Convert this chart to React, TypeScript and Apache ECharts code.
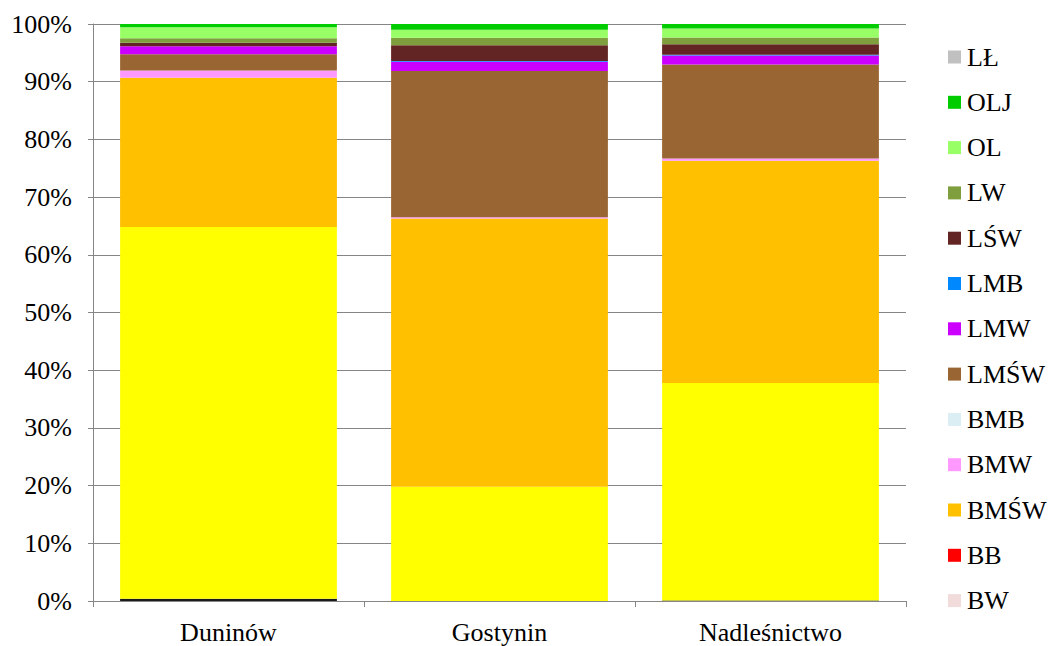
import React, { useEffect, useRef } from "react";
import * as echarts from "echarts";

const categories = ["Duninów", "Gostynin", "Nadleśnictwo"];

// stack order, bottom to top
const seriesNames = ["BS", "BŚW", "BW", "BB", "BMŚW", "BMW", "BMB", "LMŚW", "LMW", "LMB", "LŚW", "LW", "OL", "OLJ", "LŁ"];
const seriesColors = ["#1a1a1a", "#FFFF00", "#F2DCDB", "#FF0000", "#FFC000", "#FF99FF", "#DAEEF3", "#996633", "#CC00FF", "#0088FF", "#632523", "#7F9F3F", "#99FF66", "#00CC00", "#C0C0C0"];

const BS = [0.4, 0.0, 0.1];
const BSW = [64.4, 19.8, 37.7];
const BW = [0, 0, 0];
const BB = [0, 0, 0];
const BMSW = [25.9, 46.5, 38.5];
const BMW = [1.25, 0.2, 0.4];
const BMB = [0, 0, 0];
const LMSW = [2.8, 25.35, 16.3];
const LMW = [1.4, 1.6, 1.55];
const LMB = [0, 0.15, 0.1];
const LSW = [0.6, 2.7, 1.85];
const LW = [0.8, 1.3, 1.15];
const OL = [1.9, 1.4, 1.55];
const OLJ = [0.55, 1.0, 0.85];
const LL = [0, 0, 0];

const seriesValues = [BS, BSW, BW, BB, BMSW, BMW, BMB, LMSW, LMW, LMB, LSW, LW, OL, OLJ, LL];

const legendNames = ["LŁ", "OLJ", "OL", "LW", "LŚW", "LMB", "LMW", "LMŚW", "BMB", "BMW", "BMŚW", "BB", "BW"];

const yTicks = [0, 10, 20, 30, 40, 50, 60, 70, 80, 90, 100];

const FONT = "'Liberation Serif', 'Times New Roman', serif";

export default function App() {
  const ref = useRef<HTMLDivElement>(null);
  useEffect(() => {
    if (!ref.current) return;
    const chart = echarts.init(ref.current, null, { renderer: "svg" });
    chart.setOption({
      animation: false,
      backgroundColor: "#ffffff",
      grid: { left: 93, right: 144, top: 24, bottom: 45, containLabel: false },
      legend: {
        data: legendNames,
        orient: "vertical",
        left: 948,
        top: 44,
        bottom: 0,
        padding: 0,
        itemWidth: 13,
        itemHeight: 13,
        itemGap: 19.3,
        icon: "rect",
        textStyle: { fontFamily: FONT, fontSize: 26, lineHeight: 26, color: "#000", padding: [0, 0, 0, 1] },
      },
      xAxis: {
        type: "category",
        data: categories,
        axisLine: { show: true, lineStyle: { color: "#868686", width: 1 } },
        axisTick: { show: true, length: 6, lineStyle: { color: "#868686" } },
        axisLabel: { fontFamily: FONT, fontSize: 26, color: "#000", margin: 18 },
      },
      yAxis: {
        type: "value",
        min: yTicks[0],
        max: yTicks[yTicks.length - 1],
        interval: 10,
        axisLine: { show: true, lineStyle: { color: "#868686", width: 1 } },
        axisTick: { show: true, length: 5, lineStyle: { color: "#868686" } },
        splitLine: { show: true, lineStyle: { color: "#868686", width: 1 } },
        axisLabel: {
          fontFamily: FONT,
          fontSize: 26,
          color: "#000",
          margin: 21,
          formatter: (v: number) => `${v}%`,
        },
      },
      series: seriesNames.map((name, i) => ({
        name,
        type: "bar",
        stack: "total",
        barWidth: "80%",
        data: seriesValues[i],
        itemStyle: { color: seriesColors[i] },
      })),
    });
    return () => chart.dispose();
  }, []);
  return <div ref={ref} style={{ position: "absolute", left: 0, top: 0, width: 1050, height: 646 }} />;
}
